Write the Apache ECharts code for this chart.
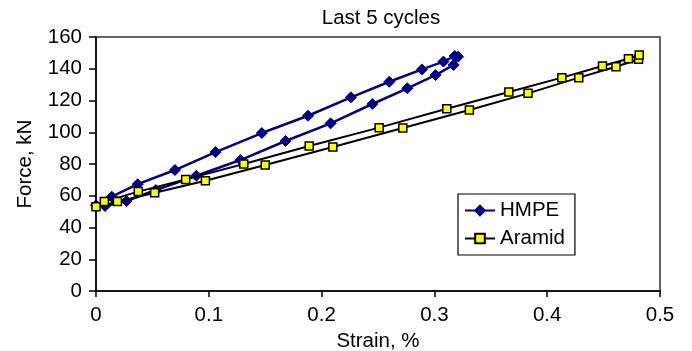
<!DOCTYPE html>
<html>
<head>
<meta charset="utf-8">
<script src="https://cdn.jsdelivr.net/npm/echarts@6/dist/echarts.min.js"></script>
<style>
html,body{margin:0;padding:0;background:#fff;}
#c{width:692px;height:351px;}
</style>
</head>
<body>
<div id="c"></div>
<script>
const chartTitle = 'Last 5 cycles';
const xName = 'Strain, %';
const yName = 'Force, kN';
const xTicks = [0, 0.1, 0.2, 0.3, 0.4, 0.5];
const yTicks = [0, 20, 40, 60, 80, 100, 120, 140, 160];

const hmpeStrain = [0.008, 0.027, 0.053, 0.089, 0.128, 0.168, 0.208, 0.245, 0.276, 0.301, 0.317, 0.321, 0.318, 0.308, 0.289, 0.260, 0.226, 0.188, 0.147, 0.106, 0.070, 0.037, 0.014, 0.000];
const hmpeForce  = [53.5, 56.7, 63.6, 72.6, 82.5, 94.5, 105.6, 117.8, 127.7, 136.0, 142.4, 147.6, 148.0, 144.5, 139.6, 131.8, 122.0, 110.4, 99.5, 87.5, 76.2, 67.3, 59.4, 54.0];

const aramidStrain = [0.000, 0.019, 0.052, 0.097, 0.150, 0.210, 0.272, 0.331, 0.383, 0.428, 0.461, 0.481, 0.4816, 0.472, 0.449, 0.413, 0.366, 0.311, 0.251, 0.189, 0.131, 0.0795, 0.0375, 0.0074];
const aramidForce  = [53.0, 56.3, 61.9, 69.5, 79.4, 90.7, 102.7, 114.0, 124.5, 134.4, 141.3, 146.0, 148.7, 146.3, 141.7, 134.4, 125.4, 114.8, 102.9, 91.3, 80.0, 70.3, 62.6, 56.3];

const font = '"Liberation Sans", Arial, sans-serif';
const fs = 20.5;

function pairs(xs, ys){ return xs.map((x,i)=>[x, ys[i]]); }

const chart = echarts.init(document.getElementById('c'), null, {renderer:'canvas'});
chart.setOption({
  animation: false,
  backgroundColor: '#fff',
  textStyle: {fontFamily: font, color: '#000'},
  graphic: [{
    type: 'text', x: 381, y: 18,
    style: {text: chartTitle, font: fs + 'px ' + font, fill: '#000', textAlign: 'center', textVerticalAlign: 'middle'}
  }],
  grid: {left: 96, right: 32, top: 37, bottom: 60, outerBoundsMode: 'none', containLabel: false,
    show: true, borderColor: '#333', borderWidth: 1.5, backgroundColor: '#fff'},
  legend: {
    orient: 'vertical', left: 458, top: 194,
    backgroundColor: '#fff', borderColor: '#000', borderWidth: 1.2,
    padding: [6, 10, 6, 6], itemGap: 7, itemWidth: 30, itemHeight: 12,
    textStyle: {fontFamily: font, fontSize: fs, color: '#000'},
    data: ['HMPE', 'Aramid']
  },
  xAxis: {
    type: 'value', min: xTicks[0], max: xTicks[xTicks.length-1], interval: 0.1,
    name: xName, nameLocation: 'middle', nameGap: 39,
    nameTextStyle: {fontFamily: font, fontSize: fs, color: '#000'},
    axisLine: {show: true, lineStyle: {color: '#000', width: 1.5}},
    axisTick: {show: true, inside: false, length: 6, lineStyle: {color: '#000', width: 1.5}},
    axisLabel: {fontFamily: font, fontSize: fs, color: '#000', margin: 14,
      formatter: v => { const t = xTicks.find(k => Math.abs(k - v) < 1e-9); return t === undefined ? '' : String(t); }},
    splitLine: {show: false}
  },
  yAxis: {
    type: 'value', min: yTicks[0], max: yTicks[yTicks.length-1], interval: 20,
    name: yName, nameLocation: 'middle', nameGap: 60, nameRotate: 90,
    nameTextStyle: {fontFamily: font, fontSize: fs, color: '#000'},
    axisLine: {show: true, lineStyle: {color: '#000', width: 1.5}},
    axisTick: {show: true, inside: false, length: 7, lineStyle: {color: '#000', width: 1.5}},
    axisLabel: {fontFamily: font, fontSize: fs, color: '#000', margin: 14},
    splitLine: {show: false}
  },
  series: [
    {
      name: 'HMPE', type: 'line', data: pairs(hmpeStrain, hmpeForce),
      symbol: 'diamond', symbolSize: 11, showAllSymbol: true,
      lineStyle: {color: '#000080', width: 2.5},
      itemStyle: {color: '#000080', borderColor: '#000080', borderWidth: 1},
      z: 3
    },
    {
      name: 'Aramid', type: 'line', data: pairs(aramidStrain, aramidForce),
      symbol: 'rect', symbolSize: 8, showAllSymbol: true,
      lineStyle: {color: '#000', width: 2},
      itemStyle: {color: '#ffff00', borderColor: '#000', borderWidth: 1.5},
      z: 4
    }
  ]
});
</script>
</body>
</html>
